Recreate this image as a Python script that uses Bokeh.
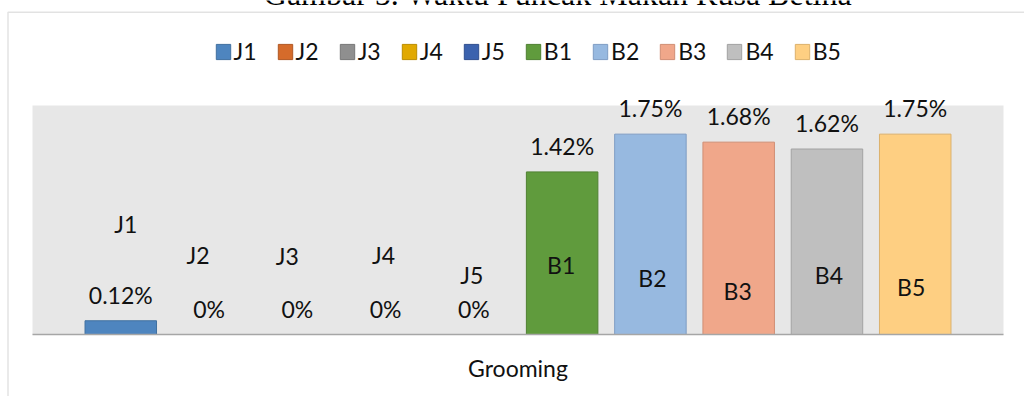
from bokeh.plotting import figure
from bokeh.models import (ColumnDataSource, Range1d, LabelSet, Label,
                          Legend, LegendItem, BoxAnnotation)
from bokeh.embed import file_html
from bokeh.resources import INLINE
from bokeh.core.properties import value

# ---- data ----
title_text = "Gambar 5. Waktu Puncak Makan Rusa Betina"
category = "Grooming"
series = ["J1", "J2", "J3", "J4", "J5", "B1", "B2", "B3", "B4", "B5"]
values = [0.12, 0, 0, 0, 0, 1.42, 1.75, 1.68, 1.62, 1.75]
value_labels = ["0.12%", "0%", "0%", "0%", "0%", "1.42%", "1.75%", "1.68%", "1.62%", "1.75%"]
y_max = 2.0

# ---- styles ----
fill_colors = ["#4e85bf", "#d56b2b", "#8f8f8f", "#e1a900", "#3b62ae",
               "#609b3d", "#97b9e0", "#f0a78a", "#bfbfbf", "#fecf82"]
line_colors = ["#41709f", "#b05824", "#777777", "#bb8d00", "#304f8f",
               "#4f8032", "#7f9dc4", "#d08e74", "#a2a2a2", "#dcb16c"]
# series-name labels were hand-placed in the original (pixel offsets)
name_dx = [5, -11, -10, -2, -2, -1, 2, -1, 2, -4]
name_dy = [111, 80, 79, 80, 60, 70, 57, 44, 60, 48]

FONT = "Lato"
FS = "23px"

# ---- layout (pixels) ----
W, H = 1024, 396
PA_L, PA_R, PA_T, PA_B = 32, 1003, 105, 334   # plot-area box

n = len(series)
xs = list(range(n))                 # slot index of each category
x_lo, x_hi = -1.0, float(n)         # plot-area extent in slot units (half-gap each side)
upx = (PA_R - PA_L) / (x_hi - x_lo)
upy = (PA_B - PA_T) / y_max
x_range = Range1d(x_lo - PA_L / upx, x_hi + (W - PA_R) / upx)
y_range = Range1d(-(H - PA_B) / upy, y_max + PA_T / upy)

src = ColumnDataSource(dict(x=xs, series=series, values=values, vlab=value_labels,
                            fill=fill_colors, line=line_colors,
                            ndx=name_dx, ndy=name_dy))

p = figure(width=W, height=H, output_backend="svg", toolbar_location=None,
           x_range=x_range, y_range=y_range,
           x_axis_location=None, y_axis_location=None,
           min_border=0, min_border_left=0, min_border_right=0,
           min_border_top=0, min_border_bottom=0)
p.title = None
p.background_fill_color = "white"
p.border_fill_color = "white"
p.outline_line_color = None
p.xgrid.visible = False
p.ygrid.visible = False

# chart border (extends past the right/bottom edges of the picture)
p.add_layout(BoxAnnotation(left=7.5, right=W + 200, top=H - 11.7, bottom=-200,
                           left_units="screen", right_units="screen",
                           top_units="screen", bottom_units="screen",
                           fill_color=None, line_color="#a0a0a0", line_width=1.5,
                           level="underlay"))
# plot area
p.add_layout(BoxAnnotation(left=x_lo, right=x_hi, bottom=0, top=y_max,
                           fill_color="#e7e7e7", fill_alpha=1, line_color=None,
                           level="underlay"))

bars = p.vbar(x="x", top="values", bottom=0, width=0.81, source=src,
              fill_color="fill", line_color="line", line_width=1)

p.segment(x0=x_lo, x1=x_hi, y0=0, y1=0, line_color="#a6a6a6", line_width=1.5)

p.add_layout(LabelSet(x="x", y="values", text="vlab", source=src,
                      y_offset=26, text_align="center", text_baseline="middle",
                      text_font=value(FONT), text_font_size=FS, text_color="#111111"))
p.add_layout(LabelSet(x="x", y=0, text="series", source=src,
                      x_offset="ndx", y_offset="ndy",
                      text_align="center", text_baseline="middle",
                      text_font=value(FONT), text_font_size=FS, text_color="#111111"))

legend = Legend(items=[LegendItem(label=s, renderers=[bars], index=i)
                       for i, s in enumerate(series)],
                orientation="horizontal", location=(213.5, 331),
                glyph_width=18, glyph_height=19, label_standoff=2, spacing=19,
                padding=0, margin=0, border_line_color=None,
                background_fill_alpha=0, label_height=15,
                label_text_font=FONT, label_text_font_size=FS,
                label_text_color="#111111")
p.add_layout(legend)

p.add_layout(Label(x=(PA_L + PA_R) / 2, y=H - 376 + 9, x_units="screen", y_units="screen",
                   text=category, text_align="center", text_baseline="alphabetic",
                   text_font=FONT, text_font_size=FS, text_color="#111111"))

p.add_layout(Label(x=557.5, y=H - 4 + 11, x_units="screen", y_units="screen",
                   text=title_text, text_align="center", text_baseline="alphabetic",
                   text_font="Liberation Serif", text_font_size="32px",
                   text_color="#000000"))

open("out.html", "w").write(file_html(p, INLINE))
